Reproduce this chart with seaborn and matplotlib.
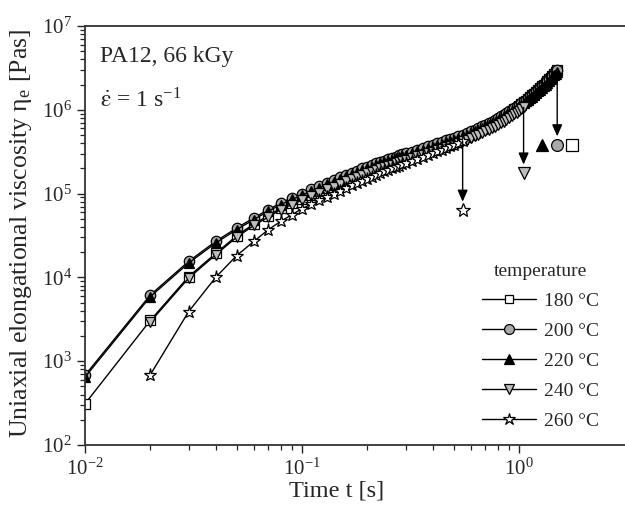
import matplotlib
matplotlib.use("Agg")
import matplotlib.pyplot as plt
import matplotlib.ticker as mticker
import seaborn as sns
import pandas as pd

# ---------------- data ----------------
time_s = [0.01, 0.02, 0.03, 0.04, 0.05, 0.06, 0.07, 0.08, 0.09, 0.10,
          0.11, 0.12, 0.13, 0.14, 0.15, 0.16, 0.17, 0.18, 0.19, 0.20,
          0.21, 0.22, 0.23, 0.24, 0.25, 0.26, 0.27, 0.28, 0.29, 0.30,
          0.32, 0.34, 0.36, 0.38, 0.40, 0.42, 0.44, 0.46, 0.48, 0.50,
          0.525, 0.55, 0.575, 0.60, 0.625, 0.65, 0.675, 0.70, 0.725, 0.75,
          0.775, 0.80, 0.825, 0.85, 0.875, 0.90, 0.925, 0.95, 0.975, 1.00,
          1.025, 1.05, 1.075, 1.10, 1.125, 1.15, 1.175, 1.20, 1.225, 1.25,
          1.275, 1.30, 1.325, 1.35, 1.375, 1.40, 1.425, 1.45, 1.475, 1.50]

visc_180 = [310, 3070, 1.02e4, 1.93e4, 3.14e4, 4.34e4, 5.46e4, 6.72e4, 7.71e4, 8.65e4,
            9.70e4, 1.06e5, 1.16e5, 1.25e5, 1.35e5, 1.46e5, 1.54e5, 1.63e5, 1.73e5, 1.81e5,
            1.89e5, 1.99e5, 2.08e5, 2.15e5, 2.23e5, 2.30e5, 2.38e5, 2.46e5, 2.54e5, 2.61e5,
            2.75e5, 2.90e5, 3.04e5, 3.19e5, 3.31e5, 3.48e5, 3.63e5, 3.79e5, 3.95e5, 4.10e5,
            4.31e5, 4.54e5, 4.77e5, 5.02e5, 5.28e5, 5.55e5, 5.83e5, 6.12e5, 6.43e5, 6.76e5,
            7.11e5, 7.48e5, 7.87e5, 8.28e5, 8.70e5, 9.14e5, 9.61e5, 1.01e6, 1.06e6, 1.11e6,
            1.17e6, 1.23e6, 1.29e6, 1.36e6, 1.42e6, 1.49e6, 1.56e6, 1.64e6, 1.72e6, 1.81e6,
            1.90e6, 1.99e6, 2.08e6, 2.18e6, 2.30e6, 2.42e6, 2.55e6, 2.68e6, 2.84e6, 3.00e6]

visc_200 = [680, 6170, 1.55e4, 2.69e4, 3.89e4, 5.13e4, 6.46e4, 7.76e4, 8.91e4, 1.00e5,
            1.12e5, 1.23e5, 1.35e5, 1.45e5, 1.57e5, 1.68e5, 1.78e5, 1.88e5, 2.00e5, 2.09e5,
            2.19e5, 2.29e5, 2.40e5, 2.48e5, 2.57e5, 2.66e5, 2.75e5, 2.85e5, 2.93e5, 3.02e5,
            3.16e5, 3.35e5, 3.51e5, 3.67e5, 3.80e5, 3.98e5, 4.14e5, 4.31e5, 4.47e5, 4.63e5,
            4.84e5, 5.07e5, 5.30e5, 5.55e5, 5.79e5, 6.05e5, 6.33e5, 6.62e5, 6.92e5, 7.24e5,
            7.59e5, 7.94e5, 8.32e5, 8.71e5, 9.12e5, 9.55e5, 1.00e6, 1.05e6, 1.10e6, 1.15e6,
            1.20e6, 1.26e6, 1.32e6, 1.38e6, 1.45e6, 1.51e6, 1.58e6, 1.66e6, 1.74e6, 1.82e6,
            1.91e6, 2.00e6, 2.09e6, 2.19e6, 2.30e6, 2.43e6, 2.56e6, 2.69e6, 2.82e6, 2.95e6]

visc_220 = [645, 5890, 1.48e4, 2.57e4, 3.72e4, 4.90e4, 6.17e4, 7.41e4, 8.51e4, 9.55e4,
            1.07e5, 1.17e5, 1.29e5, 1.38e5, 1.50e5, 1.60e5, 1.70e5, 1.80e5, 1.91e5, 2.00e5,
            2.09e5, 2.19e5, 2.29e5, 2.37e5, 2.45e5, 2.54e5, 2.63e5, 2.72e5, 2.80e5, 2.88e5,
            3.02e5, 3.20e5, 3.35e5, 3.50e5, 3.63e5, 3.80e5, 3.95e5, 4.12e5, 4.27e5, 4.42e5,
            4.62e5, 4.84e5, 5.06e5, 5.30e5, 5.53e5, 5.78e5, 6.05e5, 6.32e5, 6.61e5, 6.91e5,
            7.25e5, 7.58e5, 7.95e5, 8.32e5, 8.71e5, 9.12e5, 9.55e5, 1.00e6, 1.05e6, 1.10e6,
            1.15e6, 1.20e6, 1.26e6, 1.32e6, 1.38e6, 1.44e6, 1.51e6, 1.59e6, 1.66e6, 1.74e6,
            1.82e6, 1.91e6, 2.00e6, 2.09e6, 2.20e6, 2.32e6, 2.44e6, 2.57e6, 2.69e6, 2.82e6]

visc_240 = [2950, 9770, 1.86e4, 3.02e4, 4.17e4, 5.25e4, 6.46e4, 7.41e4, 8.32e4,
            9.33e4, 1.02e5, 1.12e5, 1.20e5, 1.30e5, 1.40e5, 1.48e5, 1.57e5, 1.66e5, 1.74e5,
            1.82e5, 1.91e5, 2.00e5, 2.07e5, 2.14e5, 2.21e5, 2.29e5, 2.37e5, 2.44e5, 2.51e5,
            2.63e5, 2.79e5, 2.92e5, 3.05e5, 3.16e5, 3.31e5, 3.44e5, 3.58e5, 3.72e5, 3.85e5,
            4.03e5, 4.22e5, 4.41e5, 4.61e5, 4.82e5, 5.04e5, 5.27e5, 5.51e5, 5.76e5, 6.03e5,
            6.31e5, 6.61e5, 6.92e5, 7.24e5, 7.63e5, 8.04e5, 8.42e5, 8.81e5, 9.28e5, 9.77e5,
            1.02e6, 1.07e6]

visc_260 = [690, 3890, 1.00e4, 1.82e4, 2.69e4, 3.72e4, 4.68e4, 5.62e4, 6.61e4,
            7.48e4, 8.28e4, 9.16e4, 9.91e4, 1.08e5, 1.17e5, 1.25e5, 1.34e5, 1.43e5, 1.51e5,
            1.59e5, 1.68e5, 1.77e5, 1.84e5, 1.92e5, 2.00e5, 2.08e5, 2.16e5, 2.24e5, 2.32e5,
            2.44e5, 2.61e5, 2.75e5, 2.90e5, 3.02e5, 3.18e5, 3.33e5, 3.49e5, 3.65e5, 3.81e5,
            4.03e5, 4.27e5]

labels = ["180 °C", "200 °C", "220 °C", "240 °C", "260 °C"]
# rupture markers
break_t = [1.75, 1.50, 1.28, 1.05, 0.55]
break_visc = [3.8e5, 3.8e5, 3.8e5, 1.75e5, 6.3e4]

series_t = [time_s, time_s, time_s, time_s[1:62], time_s[1:42]]
series_v = [visc_180, visc_200, visc_220, visc_240, visc_260]

# ---------------- style ----------------
sns.set_style("ticks")
plt.rcParams["font.family"] = ["Liberation Serif", "DejaVu Serif"]
plt.rcParams["mathtext.fontset"] = "stix"
plt.rcParams["axes.unicode_minus"] = False

markers = ["s", "o", "^", "v", "*"]
faces = ["white", "#a9a9a9", "black", "#bdbdbd", "white"]
msizes = [6.5, 7.5, 7.5, 7.5, 9.5]

fig = plt.figure(figsize=(6.25, 5.08), dpi=100)
ax = fig.add_axes([85 / 625, 63 / 508, 540 / 625, 419 / 508])

for lab, tt, vv, mk, fc, ms in zip(labels, series_t, series_v, markers, faces, msizes):
    df = pd.DataFrame({"t": tt, "v": vv})
    sns.lineplot(data=df, x="t", y="v", ax=ax, color="black", lw=1.0,
                 marker=mk, markerfacecolor=fc, markeredgecolor="black",
                 markeredgewidth=0.9, markersize=ms, label=lab,
                 estimator=None, sort=False)

# rupture markers
bsizes = [8, 8.5, 8.5, 9, 10.5]
for bt, bv, mk, fc, ms in zip(break_t, break_visc, markers, faces, bsizes):
    ax.plot([bt], [bv], linestyle="none", marker=mk, markerfacecolor=fc,
            markeredgecolor="black", markeredgewidth=0.9, markersize=ms)

# arrows from curve end to rupture marker
for idx in [1, 3, 4]:
    x_end = series_t[idx][-1]
    y_end = series_v[idx][-1]
    ax.annotate("", xy=(break_t[idx], break_visc[idx] * 1.27), xytext=(x_end, y_end),
                arrowprops=dict(arrowstyle="-|>,head_length=0.5,head_width=0.22",
                                color="black", lw=1.0, mutation_scale=14,
                                shrinkA=0, shrinkB=0))

ax.set_xscale("log")
ax.set_yscale("log")
ax.set_xlim(0.01, 3.08)
ax.set_ylim(1e2, 1e7)

ax.xaxis.set_major_locator(mticker.FixedLocator([0.01, 0.1, 1.0]))
ax.xaxis.set_minor_locator(mticker.FixedLocator(
    [m * 0.01 for m in range(2, 10)] + [m * 0.1 for m in range(2, 10)]))
ax.xaxis.set_major_formatter(mticker.LogFormatterSciNotation())
ax.xaxis.set_minor_formatter(mticker.NullFormatter())

ax.tick_params(which="major", direction="out", length=6, width=1.0, labelsize=15,
               color="#222222")
ax.tick_params(which="minor", direction="out", length=3.5, width=0.9, color="#222222")
for s in ["left", "bottom", "top"]:
    ax.spines[s].set_linewidth(1.3)
    ax.spines[s].set_color("#333333")
ax.spines["right"].set_visible(False)

ax.set_xlabel("Time t [s]", fontsize=17.5)
ax.xaxis.set_label_coords(0.465, -0.085)
ax.set_ylabel("Uniaxial elongational viscosity η$_\\mathregular{e}$ [Pas]", fontsize=18.5)
ax.yaxis.set_label_coords(-0.095, 0.505)

ax.text(0.028, 0.928, "PA12, 66 kGy", transform=ax.transAxes, fontsize=17,
        va="center", ha="left")
ax.text(0.028, 0.822, r"$\dot{\mathrm{\varepsilon}}$ = 1 s$^{\mathregular{-1}}$",
        transform=ax.transAxes, fontsize=17, va="center", ha="left")

leg = ax.legend(title="temperature", frameon=False, loc="lower right",
                bbox_to_anchor=(0.985, -0.005), fontsize=14, title_fontsize=14,
                handlelength=2.8, handletextpad=0.4, labelspacing=0.63,
                markerscale=0.95)

fig.savefig("out.png", dpi=100)
